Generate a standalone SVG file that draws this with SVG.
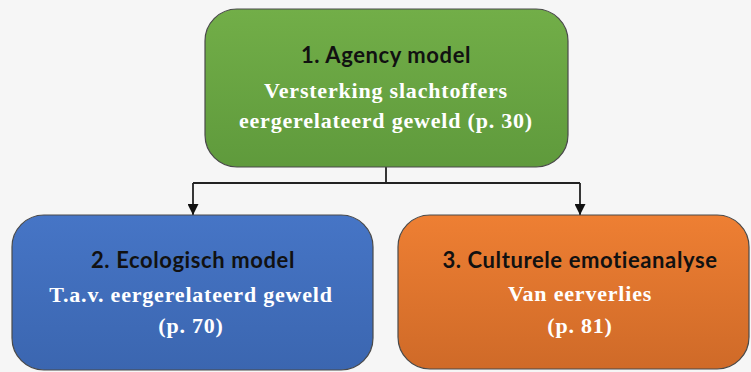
<svg xmlns="http://www.w3.org/2000/svg" width="751" height="372" viewBox="0 0 751 372">
<defs>
<linearGradient id="gG" x1="0" y1="0" x2="0" y2="1"><stop offset="0" stop-color="#72ae48"/><stop offset="1" stop-color="#5f9a3c"/></linearGradient>
<linearGradient id="gB" x1="0" y1="0" x2="0" y2="1"><stop offset="0" stop-color="#4675c6"/><stop offset="1" stop-color="#3b66b0"/></linearGradient>
<linearGradient id="gO" x1="0" y1="0" x2="0" y2="1"><stop offset="0" stop-color="#ee7f33"/><stop offset="1" stop-color="#cf6a28"/></linearGradient>
<marker id="arr" viewBox="0 0 10 10" refX="10" refY="5" markerUnits="userSpaceOnUse" markerWidth="12" markerHeight="11" orient="auto"><path d="M0,0 L10,5 L0,10 z" fill="#111"/></marker>
</defs>
<style>
.box{stroke:#4a4a4a;stroke-width:1.2}
.t{font-family:Lato,"Liberation Sans",sans-serif;font-weight:bold;font-size:22px;letter-spacing:0.6px;fill:#111;text-anchor:middle}
.s{font-family:"Liberation Serif",serif;font-weight:bold;font-size:22px;letter-spacing:0.8px;fill:#fff;text-anchor:middle}
.c{fill:none;stroke:#222;stroke-width:1.8}
</style>
<rect width="751" height="372" fill="#f6f6f6"/>
<g id="connectors">
<path class="c" d="M386,167 V183"/>
<path class="c" d="M193,183 H580"/>
<path class="c" d="M193,183 V215" marker-end="url(#arr)"/>
<path class="c" d="M580,183 V215" marker-end="url(#arr)"/>
</g>
<g id="node1">
<rect class="box" x="205" y="9" width="363" height="158" rx="32" fill="url(#gG)"/>
<text class="t" x="386" y="63">1. Agency model</text>
<text class="s" x="386" y="98">Versterking slachtoffers</text>
<text class="s" x="386" y="128">eergerelateerd geweld (p. 30)</text>
</g>
<g id="node2">
<rect class="box" x="12" y="215" width="361" height="155" rx="32" fill="url(#gB)"/>
<text class="t" x="193" y="268">2. Ecologisch model</text>
<text class="s" x="191" y="302">T.a.v. eergerelateerd geweld</text>
<text class="s" x="191" y="333">(p. 70)</text>
</g>
<g id="node3">
<rect class="box" x="398" y="215" width="351" height="154" rx="32" fill="url(#gO)"/>
<text class="t" x="580" y="268">3. Culturele emotieanalyse</text>
<text class="s" x="580" y="301">Van eerverlies</text>
<text class="s" x="580" y="333">(p. 81)</text>
</g>
</svg>
